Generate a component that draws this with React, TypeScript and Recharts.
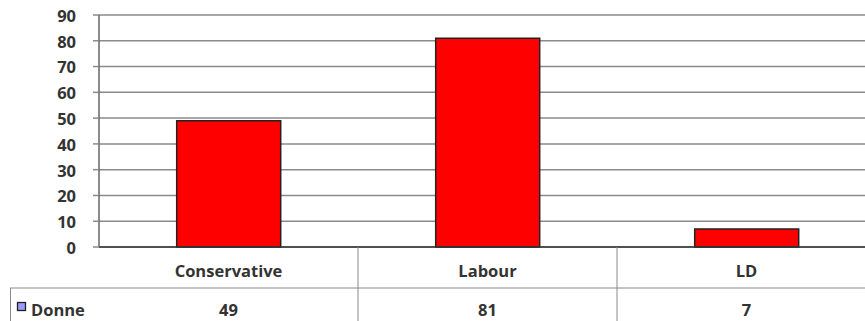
import { Bar, BarChart, CartesianGrid, XAxis, YAxis } from "recharts";

const categories = ["Conservative", "Labour", "LD"];
const donneValues = [49, 81, 7];
const yTicks = [0, 10, 20, 30, 40, 50, 60, 70, 80, 90];
const seriesName = "Donne";

const data = categories.map((party, i) => ({ party, donne: donneValues[i] }));

const textColor = "#333333";
const lineColor = "#8a8a8a";
const fontFamily = "'Open Sans', 'Liberation Sans', sans-serif";
const fontSize = 16.5;

function TableTick(props: any): React.JSX.Element {
  const { x, y, payload, index, width, visibleTicksCount } = props;
  const band = width / (visibleTicksCount || categories.length);
  const left = x - band / 2;
  const right = x + band / 2;
  const top = y;
  const rowLine = top + 41;
  const bottom = top + 90;
  return (
    <g>
      {index === 0 && (
        <g>
          <line x1={10} y1={rowLine} x2={left} y2={rowLine} stroke={lineColor} />
          <line x1={10.5} y1={rowLine} x2={10.5} y2={bottom} stroke={lineColor} />
          <rect x={17.5} y={rowLine + 14.5} width={8} height={8} fill="#9999ff" stroke="#222" strokeWidth={1.3} />
          <text
            x={31}
            y={rowLine + 28}
            fill={textColor}
            fontSize={fontSize}
            fontWeight="bold"
            fontFamily={fontFamily}
          >
            {seriesName}
          </text>
        </g>
      )}
      <line x1={left} y1={rowLine} x2={right} y2={rowLine} stroke={lineColor} />
      <line x1={right} y1={top} x2={right} y2={bottom} stroke={lineColor} />
      <text
        x={x}
        y={top + 30}
        textAnchor="middle"
        fill={textColor}
        fontSize={fontSize}
        fontWeight="bold"
        fontFamily={fontFamily}
      >
        {payload.value}
      </text>
      <text
        x={x}
        y={rowLine + 28}
        textAnchor="middle"
        fill={textColor}
        fontSize={fontSize}
        fontWeight="bold"
        fontFamily={fontFamily}
      >
        {donneValues[index]}
      </text>
    </g>
  );
}

export default function App(): React.JSX.Element {
  return (
    <div
      style={{
        position: "absolute",
        left: 0,
        top: 0,
        width: 865,
        height: 321,
        overflow: "hidden",
        background: "#fff",
      }}
    >
      <BarChart
        width={880}
        height={335}
        data={data}
        margin={{ top: 15, right: 4, left: 0, bottom: 0 }}
        barCategoryGap="30%"
      >
        <CartesianGrid vertical={false} stroke={lineColor} strokeWidth={1.5} />
        <XAxis
          dataKey="party"
          height={88}
          interval={0}
          tickLine={false}
          tickSize={0}
          tickMargin={0}
          axisLine={{ stroke: "#333", strokeWidth: 1.5 }}
          tick={<TableTick />}
        />
        <YAxis
          width={99}
          domain={[0, 90]}
          ticks={yTicks}
          interval={0}
          tickSize={6}
          tickMargin={17}
          axisLine={{ stroke: "#666", strokeWidth: 1.5 }}
          tickLine={{ stroke: lineColor, strokeWidth: 1.5 }}
          tick={{ fill: textColor, fontSize, fontWeight: "bold", fontFamily, dy: 1 }}
        />
        <Bar
          dataKey="donne"
          fill="#ff0000"
          stroke="#222"
          strokeWidth={1.5}
          isAnimationActive={false}
        />
      </BarChart>
    </div>
  );
}
